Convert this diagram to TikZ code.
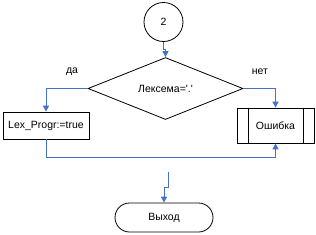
\documentclass[tikz,border=0pt]{standalone}
\usepackage{fontspec}
\setmainfont{Liberation Sans}
\usetikzlibrary{shapes.geometric,shapes.misc,arrows.meta,calc}
\newcommand\sq{\XeTeXglyph\XeTeXcharglyph"27\relax}
\begin{document}
\begin{tikzpicture}[x=1pt,y=-1pt,
  every node/.style={font=\fontsize{10.5}{12}\selectfont, inner sep=0pt},
  shp/.style={draw=black, line width=0.8pt, fill=white},
  flow/.style={draw={rgb,255:red,68;green,114;blue,196}, line width=0.9pt},
  arr/.style={flow, -{Triangle[width=6pt,length=6pt]}},
  lbl/.style={}]
\useasboundingbox (0,0) rectangle (316,234);
\node[shp, circle, minimum size=39pt] (c2) at (163.5,22) {2};
\node[shp, diamond, minimum width=155pt, minimum height=55pt] (dec) at (165.5,88.5) {Лексема=\sq.\sq};
\node[shp, rectangle, minimum width=86pt, minimum height=27pt] (lex) at (46,125.5) {Lex\_Progr:=true};
\node[shp, rectangle, minimum width=77pt, minimum height=35pt] (err) at (275.5,125.5) {Ошибка};
\draw[shp] ($(err.north west)+(12,0)$) -- ($(err.south west)+(12,0)$)
           ($(err.north east)+(-11,0)$) -- ($(err.south east)+(-11,0)$);
\node[shp, rounded rectangle, minimum width=98pt, minimum height=29pt] (exit) at (164,217.5) {Выход};
\node[lbl] (yes) at (72,72) {да};
\node[lbl] (no) at (260,72) {нет};
\coordinate (loose) at (168,172);
\coordinate (loopy) at (0,157);
\draw[arr] (c2.south) |- ($(dec.north)+(0,-8)$) -- (dec.north);
\draw[arr] (dec.west) -| (lex.north);
\draw[arr] (dec.east) -| (err.north);
\draw[arr] (lex.south) |- (loopy -| err.south) -- (err.south);
\draw[arr] (loose) -- ++(0,15) -| (exit.north);
\end{tikzpicture}
\end{document}
